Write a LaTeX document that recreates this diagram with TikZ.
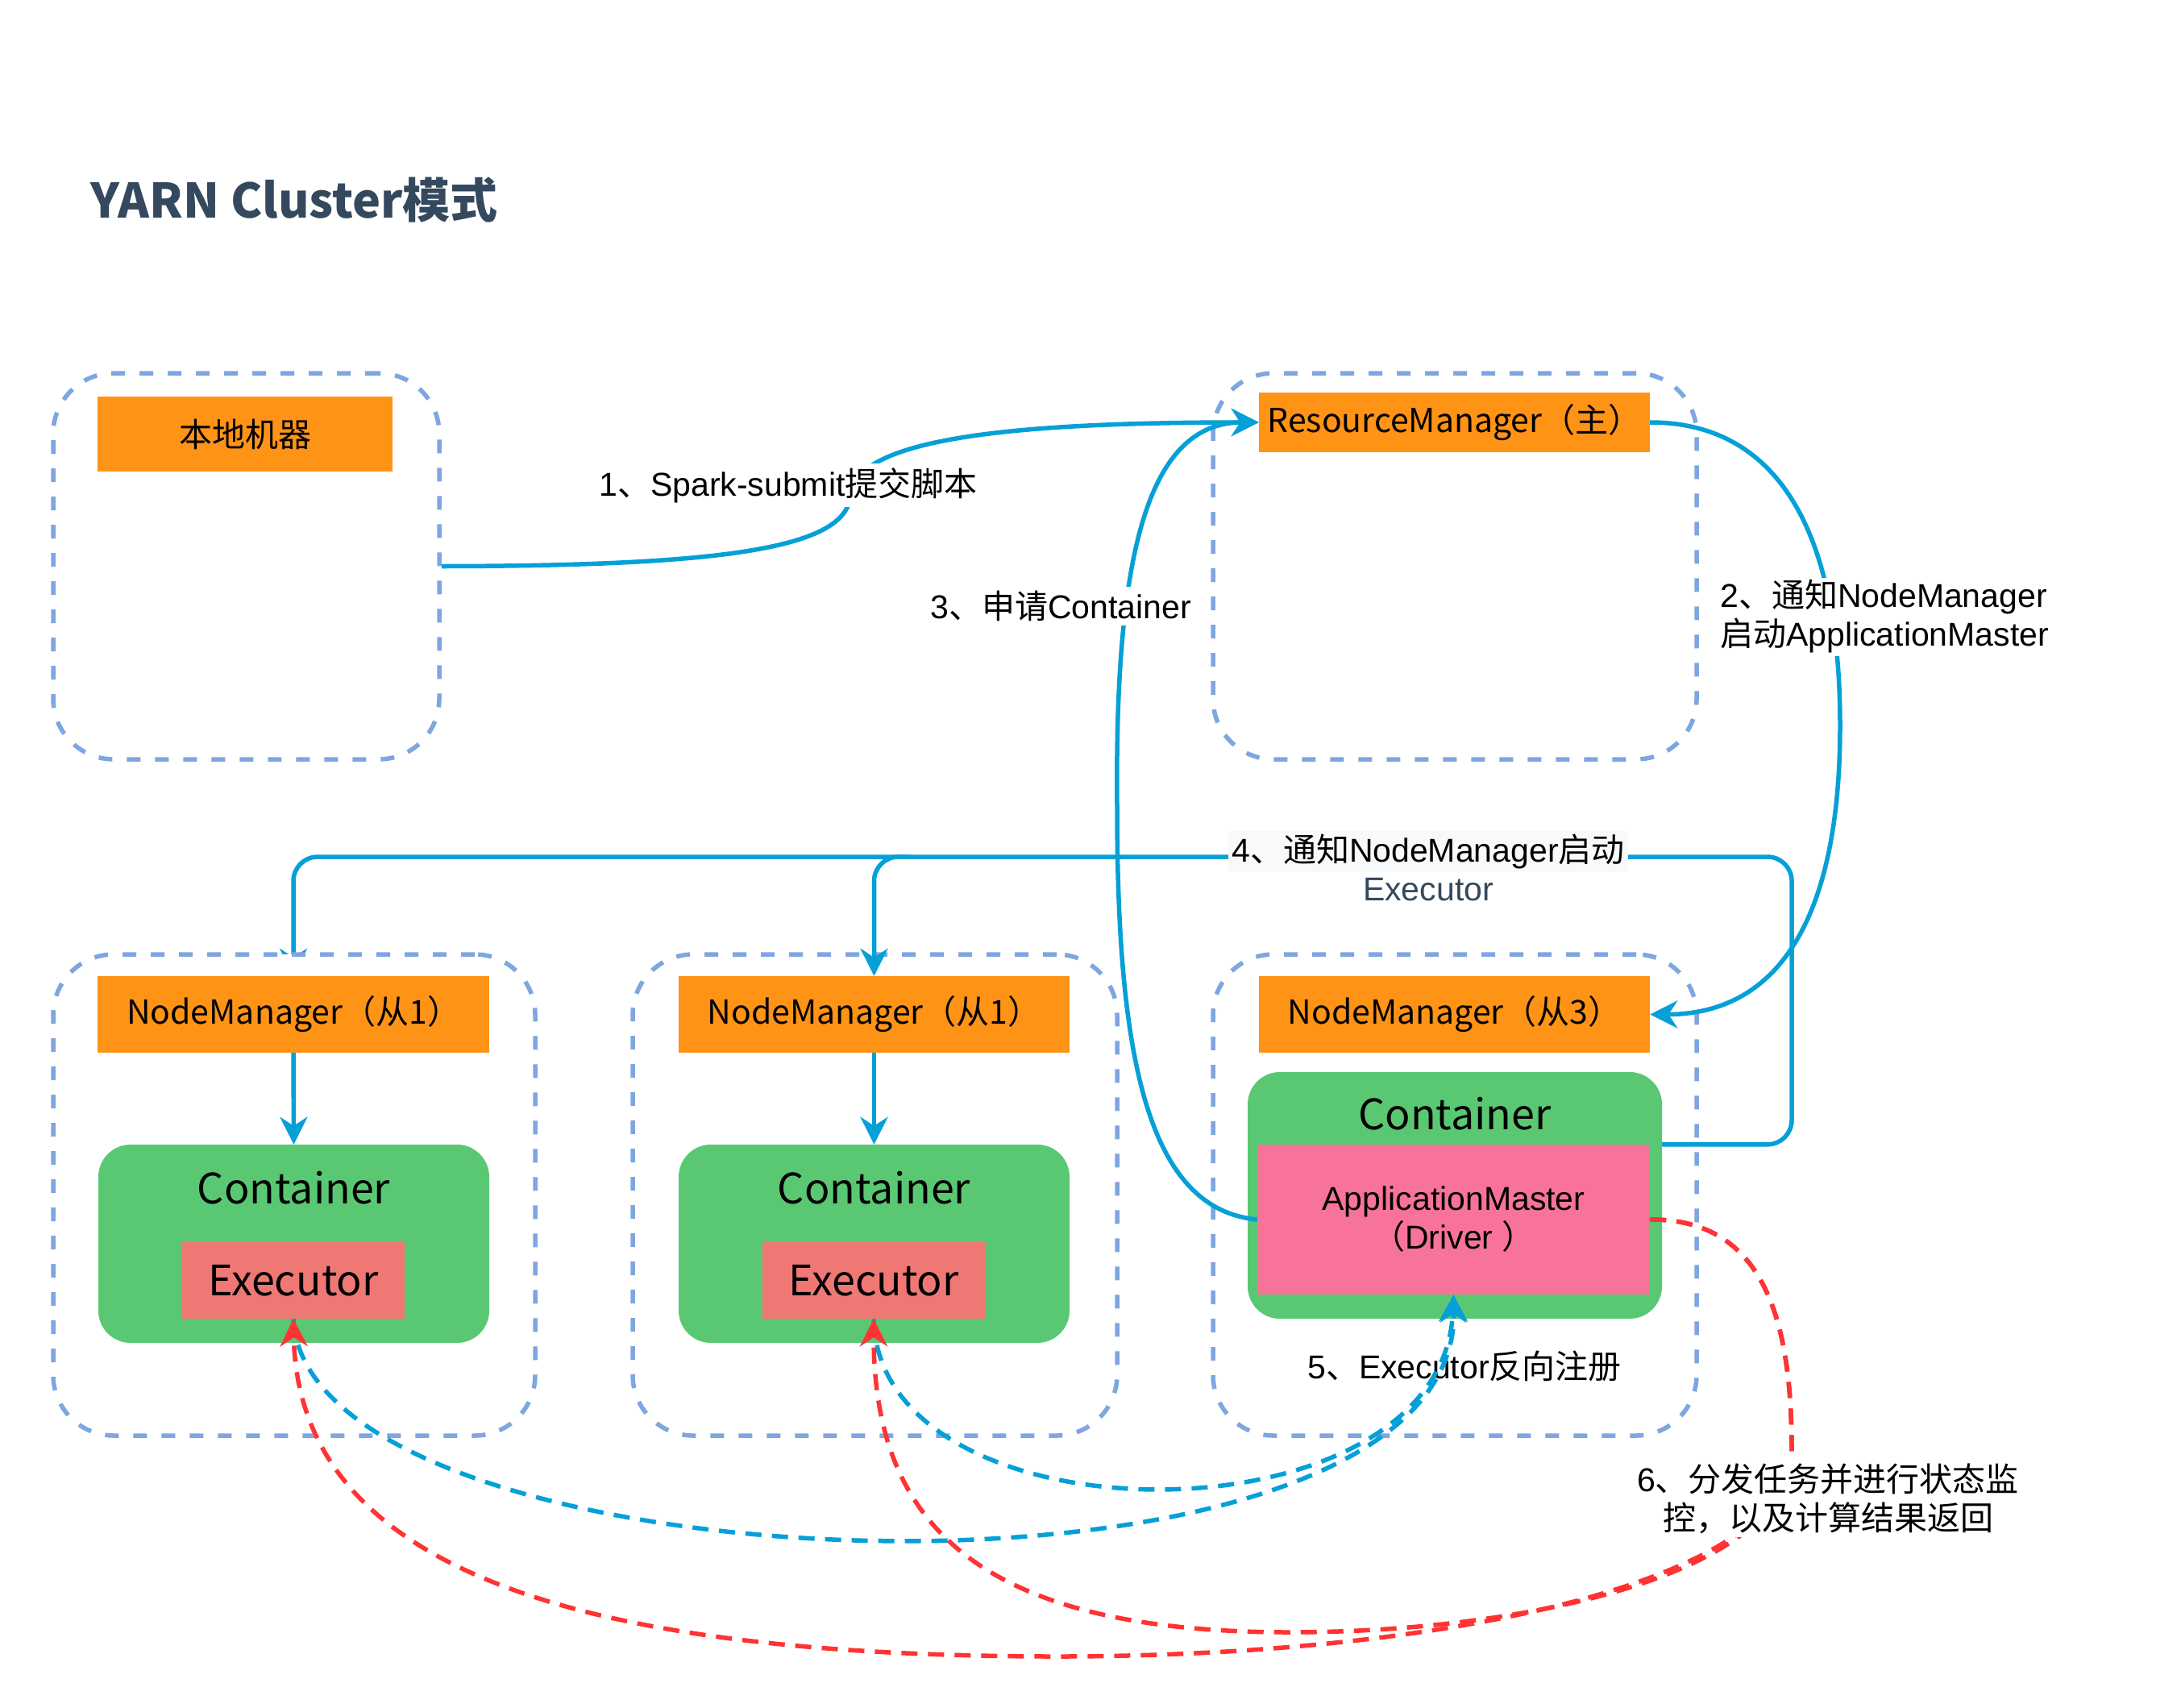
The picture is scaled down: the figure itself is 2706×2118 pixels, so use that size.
\documentclass[tikz,border=0pt]{standalone}
\usepackage{fontspec}
\setmainfont{Liberation Sans}
\newfontfamily\cjk{Noto Sans CJK SC}
\usetikzlibrary{arrows.meta,calc}
\definecolor{orng}{HTML}{FF9316}
\definecolor{grn}{HTML}{5AC873}
\definecolor{exec}{HTML}{F07874}
\definecolor{amp}{HTML}{F77399}
\definecolor{lblue}{HTML}{05A0D7}
\definecolor{dbox}{HTML}{7EA6E0}
\definecolor{rd}{HTML}{FF3333}
\definecolor{slate}{HTML}{34495E}
\definecolor{lbg}{HTML}{F8F9FA}
\tikzset{
  groupbox/.style={draw=dbox, line width=5.5pt, dash pattern=on 17pt off 18pt, rounded corners=75pt, inner sep=0pt},
  obox/.style={fill=orng, inner sep=0pt, font=\cjk\fontsize{41}{48}\selectfont},
  cbox/.style={fill=grn, rounded corners=40pt, inner sep=0pt},
  ebox/.style={fill=exec, inner sep=0pt, font=\cjk\fontsize{52}{60}\selectfont},
  ctext/.style={inner sep=0pt, font=\cjk\fontsize{52}{60}\selectfont},
  lbl/.style={inner sep=5pt, font=\fontsize{41}{48}\selectfont},
  arrowend/.style={-{Stealth[length=34pt,width=34pt,inset=11pt]}},
  conn/.style={draw=lblue, line width=5.5pt},
  bdash/.style={draw=lblue, line width=5.5pt, dash pattern=on 20pt off 13pt},
  rdash/.style={draw=rd, line width=5.5pt, dash pattern=on 20pt off 13pt},
}
\begin{document}
\begin{tikzpicture}[x=1pt,y=-1pt]
\useasboundingbox (0,0) rectangle (2706,2118);
\fill[white] (0,0) rectangle (2706,2118);

% title
\node[anchor=base west, inner sep=0pt, text=slate, font=\cjk\bfseries\fontsize{59}{68}\selectfont] (title) at (112,270) {YARN Cluster模式};

% nodes needed before edge 4
\node[obox, minimum width=486pt, minimum height=95pt] (nm1) at (364,1258.5) {NodeManager（从1）};
\node[minimum width=487pt, minimum height=186pt, inner sep=0pt] (amref) at (1803.5,1513) {};

% edge 4 main route (drawn under the left group box)
\coordinate (w4a) at (2223,1063);
\draw[conn, arrowend, rounded corners=30pt] (amref.north east) -| (w4a) -| (nm1.north);

% group boxes
\node[groupbox, fill=white, minimum width=598pt, minimum height=597pt] (g1) at (365,1482.5) {};
\node[groupbox, minimum width=601pt, minimum height=597pt] (g2) at (1085.5,1482.5) {};
\node[groupbox, minimum width=600pt, minimum height=597pt] (g3) at (1805,1482.5) {};
\node[groupbox, minimum width=479pt, minimum height=479pt] (local) at (305.5,702.5) {};
\node[groupbox, minimum width=600pt, minimum height=479pt] (rmg) at (1805,702.5) {};

% orange boxes
\node[obox, minimum width=366pt, minimum height=93pt] (lm) at (304,538.5) {本地机器};
\node[obox, minimum width=485pt, minimum height=74pt] (rm) at (1804.5,524) {ResourceManager（主）};
\node[obox, minimum width=486pt, minimum height=95pt] (nm1b) at (364,1258.5) {NodeManager（从1）};
\node[obox, minimum width=485pt, minimum height=95pt] (nm2) at (1084.5,1258.5) {NodeManager（从1）};
\node[obox, minimum width=485pt, minimum height=95pt] (nm3) at (1804.5,1258.5) {NodeManager（从3）};

% containers
\node[cbox, minimum width=485pt, minimum height=246pt] (c1) at (364.5,1543) {};
\node[cbox, minimum width=485pt, minimum height=246pt] (c2) at (1084.5,1543) {};
\node[cbox, minimum width=514pt, minimum height=306pt] (c3) at (1805,1483) {};
\node[ctext] (c1t) at (364.5,1474) {Container};
\node[ctext] (c2t) at (1084.5,1474) {Container};
\node[ctext] (c3t) at (1805,1382) {Container};

% executors and application master
\node[ebox, minimum width=276pt, minimum height=95pt] (ex1) at (364,1588.5) {\raisebox{-4pt}{Executor}};
\node[ebox, minimum width=276pt, minimum height=95pt] (ex2) at (1084,1588.5) {\raisebox{-4pt}{Executor}};
\node[fill=amp, inner sep=0pt, minimum width=487pt, minimum height=186pt, align=center,
      font=\fontsize{41}{48}\selectfont] (am) at (1803.5,1513)
      {ApplicationMaster\\{\cjk （}Driver {\cjk ）}};

% edge 1
\draw[conn, arrowend] (local.east) .. controls (900,702) and (1050,680) .. (1055,615)
   .. controls (1060,545) and (1250,524) .. (rm.west);
\node[lbl, fill=white] (l1) at (978,602) {1{\cjk 、}Spark-submit{\cjk 提交脚本}};

% edge 2
\draw[conn, arrowend] (rm.east) .. controls (2200,524) and (2283,650) .. (2283,900)
   .. controls (2283,1150) and (2200,1258.5) .. (nm3.east);
\node[lbl, fill=white, anchor=west, align=left, inner sep=3pt] (l2) at (2131,765)
   {2{\cjk 、通知}NodeManager\\{\cjk 启动}ApplicationMaster};

% edge 3
\draw[conn, arrowend] (am.west) .. controls (1420,1500) and (1386,1300) .. (1386,1000)
   .. controls (1383,700) and (1420,524) .. (rm.west);
\node[lbl, fill=white] (l3) at (1316,752) {3{\cjk 、申请}Container};

% edge 4 middle branch and label
\coordinate (w4b) at (1130,1063);
\draw[conn, arrowend, rounded corners=30pt] (w4b) -| (nm2.north);
\node[lbl, fill=lbg, inner sep=4pt] (l4) at (1772,1056) {4{\cjk 、通知}NodeManager{\cjk 启动}};
\node[lbl, inner sep=0pt, text=slate] (l4b) at (1772,1104) {Executor};

% NodeManager -> Container
\draw[conn, arrowend] (nm1b.south) -- (c1.north);
\draw[conn, arrowend] (nm2.south) -- (c2.north);

% edge 5 (Executor register)
\node[lbl, inner sep=0pt] (l5) at (1817,1695) {5{\cjk 、}Executor{\cjk 反向注册}};
\draw[bdash, arrowend] (ex1.south) .. controls (380,1980) and (1810,2030) .. (am.south);
\draw[bdash, arrowend] (ex2.south) .. controls (1090,1920) and (1790,1920) .. (am.south);

% edge 6 (dispatch tasks)
\draw[rdash, arrowend] (am.east) .. controls (2190,1512) and (2223,1640) .. (2223,1800)
   .. controls (2223,1960) and (1800,2055) .. (1312,2055)
   .. controls (750,2055) and (370,1960) .. (ex1.south);
\draw[rdash, arrowend] (am.east) .. controls (2190,1512) and (2223,1640) .. (2223,1800)
   .. controls (2223,1950) and (1900,2025) .. (1600,2025)
   .. controls (1200,2025) and (1084,1880) .. (ex2.south);
\node[lbl, fill=white, align=center, inner sep=4pt] (l6) at (2268,1859)
   {6{\cjk 、分发任务并进行状态监}\\{\cjk 控，以及计算结果返回}};
\end{tikzpicture}
\end{document}
